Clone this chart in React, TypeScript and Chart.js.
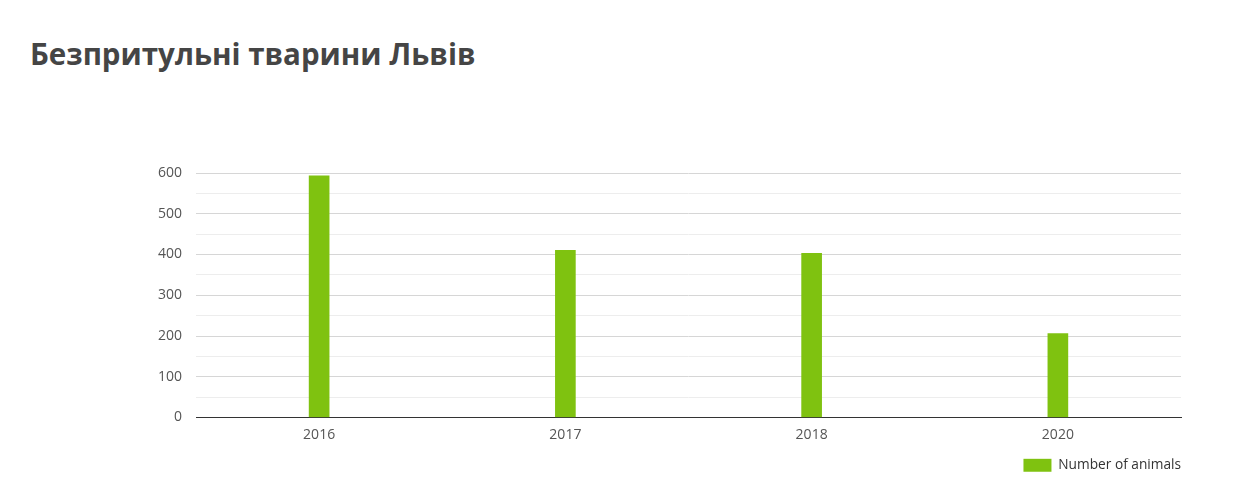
import React, { useEffect, useRef } from "react";
import { Chart, registerables } from "chart.js";

Chart.register(...registerables);

const years = ["2016", "2017", "2018", "2020"];
const animals = [593, 410, 403, 206];
const yTicks = [0, 100, 200, 300, 400, 500, 600];

const App: React.FC = () => {
  const chartRef = useRef<HTMLCanvasElement | null>(null);

  useEffect(() => {
    if (!chartRef.current) return;

    const chart = new Chart(chartRef.current, {
      type: "bar",
      data: {
        labels: years,
        datasets: [
          {
            label: "Number of animals",
            data: animals,
            backgroundColor: "#7fc210",
            barThickness: 20,
          },
        ],
      },
      options: {
        animation: false,
        responsive: false,
        maintainAspectRatio: false,
        layout: {
          padding: { left: 150, right: 69, top: 172, bottom: 0 },
        },
        plugins: {
          tooltip: { enabled: false },
          legend: {
            position: "bottom",
            align: "end",
            labels: {
              boxWidth: 28,
              boxHeight: 13,
              color: "#333",
              font: { family: "'Open Sans'", size: 13.7 },
              padding: 0,
            },
          },
        },
        scales: {
          x: {
            grid: { display: false, drawTicks: false },
            border: { display: true, color: "#333", width: 1 },
            afterFit: (scale: any) => {
              scale.height += 6;
            },
            ticks: {
              color: "#555",
              font: { family: "'Open Sans'", size: 14 },
              padding: 9,
            },
          },
          y: {
            min: 0,
            max: yTicks[yTicks.length - 1],
            border: { display: false },
            afterFit: (scale: any) => {
              scale.width = 46;
            },
            grid: {
              drawTicks: false,
              color: (ctx: any) => {
                const v = ctx.tick ? ctx.tick.value : 0;
                if (v === 0) return "#333";
                return v % 100 === 0 ? "#d6d6d6" : "#ededed";
              },
            },
            ticks: {
              stepSize: 50,
              color: "#555",
              padding: 14,
              font: { family: "'Open Sans'", size: 14 },
              callback: (value: any) =>
                yTicks.includes(Number(value)) ? String(value) : "",
            },
          },
        },
      },
    });

    return () => {
      chart.destroy();
    };
  }, []);

  return (
    <div
      style={{
        position: "relative",
        width: 1250,
        height: 482,
        margin: -8,
        background: "#fff",
        borderTop: "1px solid #eee",
        boxSizing: "border-box",
      }}
    >
      <div
        style={{
          position: "absolute",
          left: 30,
          top: 33,
          fontFamily: "'Open Sans', sans-serif",
          fontWeight: 700,
          fontSize: 29.5,
          color: "#454545",
          lineHeight: "40px",
        }}
      >
        Безпритульні тварини Львів
      </div>
      <canvas
        ref={chartRef}
        width={1250}
        height={481}
        style={{ position: "absolute", left: 0, top: 0 }}
      ></canvas>
    </div>
  );
};

export default App;
